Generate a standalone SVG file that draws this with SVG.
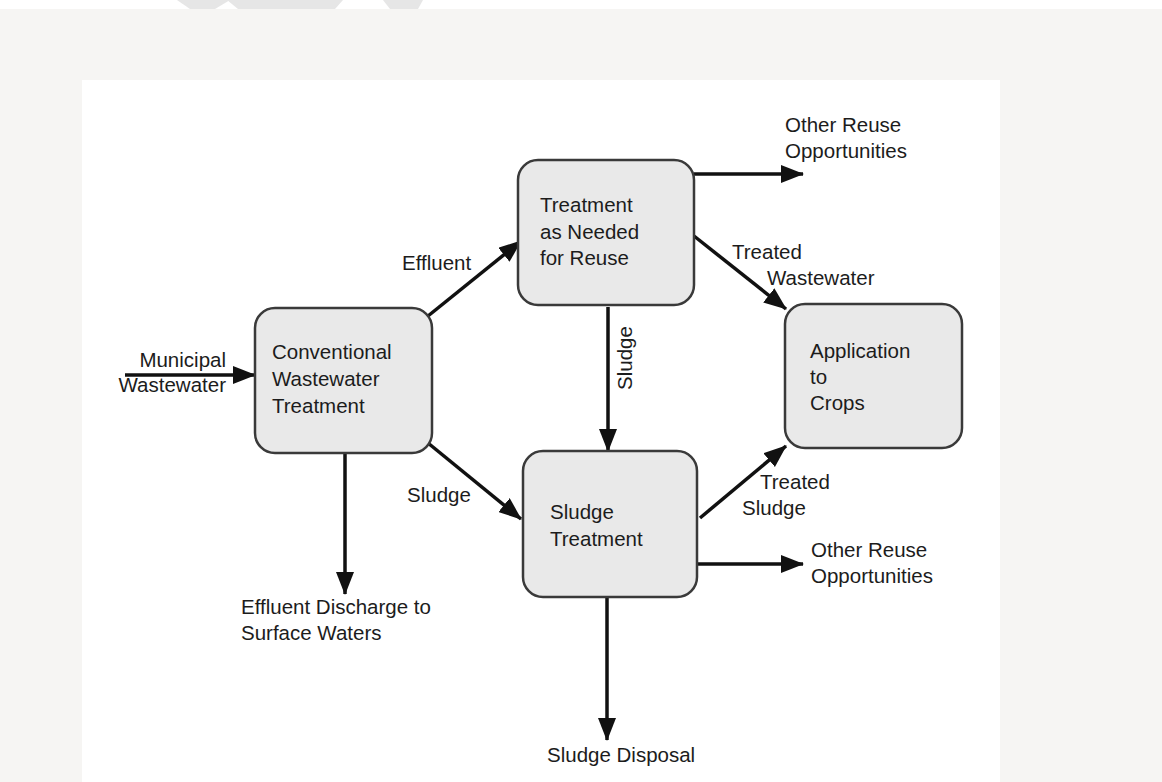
<svg xmlns="http://www.w3.org/2000/svg" width="1162" height="782" viewBox="0 0 1162 782">
<style>
.bg{fill:#f6f5f3}
.panel{fill:#ffffff}
.box{fill:#e9e9e9;stroke:#3a3a3a;stroke-width:2.5}
.t{font-family:"Liberation Sans",Arial,sans-serif;font-size:20.5px;fill:#1c1c1c}
.edge{stroke:#111111;stroke-width:3.5;fill:none;marker-end:url(#ah)}
.wm{fill:#e6e6e6}
</style>
<defs>
<marker id="ah" markerUnits="userSpaceOnUse" markerWidth="24" markerHeight="18" refX="22" refY="9" orient="auto">
<path d="M0,0 L23,9 L0,18 Z" fill="#111111"/>
</marker>
</defs>
<rect class="bg" x="0" y="0" width="1162" height="782"/>
<rect x="0" y="0" width="1162" height="9" fill="#ffffff"/>
<polygon class="wm" points="177,0 230,0 215,9 190,9"/>
<polygon class="wm" points="227,0 343,0 335,9 238,9"/>
<polygon class="wm" points="383,0 423,0 418,9 390,9"/>
<rect class="panel" x="82" y="80" width="918" height="702"/>

<g id="connectors">
<line class="edge" x1="125" y1="375" x2="255" y2="375"/>
<line class="edge" x1="428" y1="316" x2="521" y2="241"/>
<line class="edge" x1="428" y1="443" x2="521" y2="519"/>
<line class="edge" x1="608" y1="307" x2="608" y2="451"/>
<line class="edge" x1="694" y1="236" x2="786" y2="309"/>
<line class="edge" x1="694" y1="174" x2="803" y2="174"/>
<line class="edge" x1="700" y1="518" x2="786" y2="446"/>
<line class="edge" x1="697" y1="564" x2="803" y2="564"/>
<line class="edge" x1="345" y1="453" x2="345" y2="594"/>
<line class="edge" x1="607" y1="597" x2="607" y2="740"/>
</g>

<g id="n-conventional">
<rect class="box" x="255" y="308" width="177" height="145" rx="20"/>
<text class="t" x="272" y="359">Conventional</text>
<text class="t" x="272" y="386">Wastewater</text>
<text class="t" x="272" y="413">Treatment</text>
</g>
<g id="n-treatment-reuse">
<rect class="box" x="518" y="160" width="176" height="145" rx="20"/>
<text class="t" x="540" y="212">Treatment</text>
<text class="t" x="540" y="239">as Needed</text>
<text class="t" x="540" y="265">for Reuse</text>
</g>
<g id="n-application">
<rect class="box" x="785" y="304" width="177" height="144" rx="20"/>
<text class="t" x="810" y="358">Application</text>
<text class="t" x="810" y="384">to</text>
<text class="t" x="810" y="410">Crops</text>
</g>
<g id="n-sludge-treatment">
<rect class="box" x="523" y="451" width="174" height="146" rx="20"/>
<text class="t" x="550" y="519">Sludge</text>
<text class="t" x="550" y="546">Treatment</text>
</g>

<g id="labels">
<text class="t" x="226" y="367" text-anchor="end">Municipal</text>
<text class="t" x="226" y="392" text-anchor="end">Wastewater</text>
<text class="t" x="402" y="270">Effluent</text>
<text class="t" x="407" y="502">Sludge</text>
<text class="t" transform="translate(632,358) rotate(-90)" text-anchor="middle">Sludge</text>
<text class="t" x="732" y="259">Treated</text>
<text class="t" x="767" y="285">Wastewater</text>
<text class="t" x="785" y="132">Other Reuse</text>
<text class="t" x="785" y="158">Opportunities</text>
<text class="t" x="760" y="489">Treated</text>
<text class="t" x="742" y="515">Sludge</text>
<text class="t" x="811" y="557">Other Reuse</text>
<text class="t" x="811" y="583">Opportunities</text>
<text class="t" x="241" y="614">Effluent Discharge to</text>
<text class="t" x="241" y="640">Surface Waters</text>
<text class="t" x="547" y="762">Sludge Disposal</text>
</g>
</svg>
